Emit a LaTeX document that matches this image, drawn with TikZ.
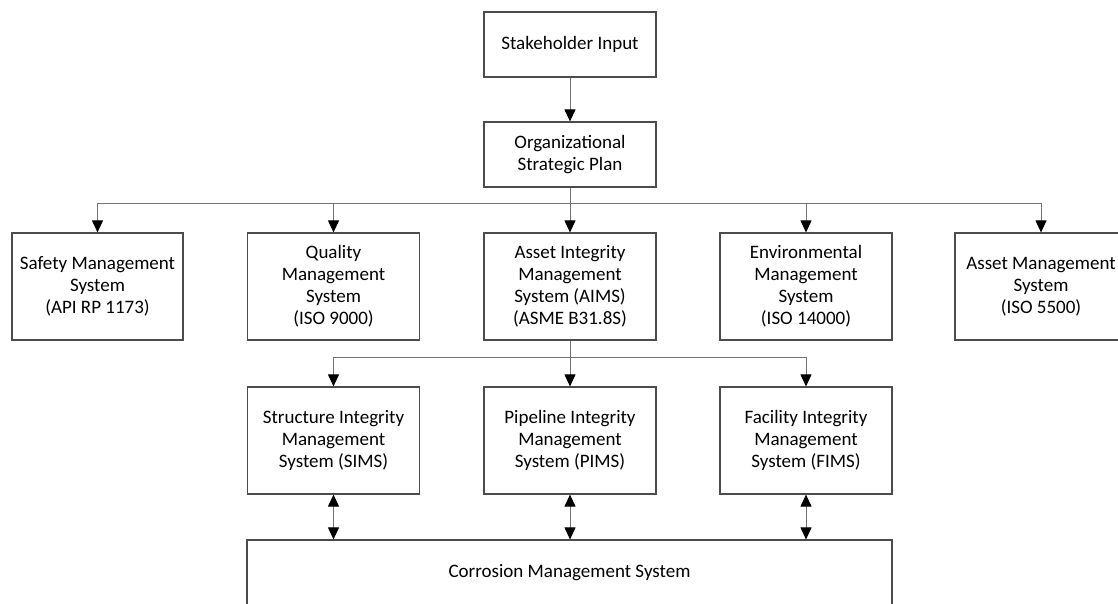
\documentclass[tikz,border=0pt]{standalone}
\usepackage{fontspec}
\setmainfont{Carlito}
\usetikzlibrary{arrows.meta}
\begin{document}
\begin{tikzpicture}[x=1pt,y=-1pt,
  box/.style={draw=black!70,line width=1.2pt,fill=white,minimum width=172pt,inner sep=0pt,align=center,font=\fontsize{19}{22}\selectfont},
  topbox/.style={box,minimum height=65pt},
  midbox/.style={box,minimum height=107pt},
  conn/.style={draw=black!55,line width=1pt},
  btip/.tip={Triangle[width=11pt,length=12pt,color=black]},
  arr/.style={conn,-btip},
  darr/.style={conn,btip-btip}]
\useasboundingbox (0,0) rectangle (1118,603);
\clip (0,0) rectangle (1118,603);
\fill[white] (0,0) rectangle (1118,603);
\node[topbox] (stake) at (570,44.5) {Stakeholder Input};
\node[topbox] (org) at (570,154.5) {Organizational\\Strategic Plan};
\node[midbox,minimum width=171pt] (safety) at (97.5,286.5) {Safety Management\\System\\(API RP 1173)};
\node[midbox] (quality) at (333.5,286.5) {Quality\\Management\\System\\(ISO 9000)};
\node[midbox] (aims) at (570,286.5) {Asset Integrity\\Management\\System (AIMS)\\(ASME B31.8S)};
\node[midbox] (env) at (806,286.5) {Environmental\\Management\\System\\(ISO 14000)};
\node[midbox] (asset) at (1041,286.5) {Asset Management\\System\\(ISO 5500)};
\node[midbox] (sims) at (333.5,440.5) {Structure Integrity\\Management\\System (SIMS)};
\node[midbox] (pims) at (570,440.5) {Pipeline Integrity\\Management\\System (PIMS)};
\node[midbox] (fims) at (806,440.5) {Facility Integrity\\Management\\System (FIMS)};
\node[box,minimum width=645pt,minimum height=66pt] (corr) at (569.5,573) {Corrosion Management System};
\coordinate (bus1) at (570,203);
\coordinate (bus2) at (570,357);
\draw[arr] (stake.south) -- (org.north);
\draw[conn] (org.south) -- (bus1);
\draw[arr] (bus1) -| (safety.north);
\draw[arr] (bus1) -| (quality.north);
\draw[arr] (bus1) -- (aims.north);
\draw[arr] (bus1) -| (env.north);
\draw[arr] (bus1) -| (asset.north);
\draw[conn] (aims.south) -- (bus2);
\draw[arr] (bus2) -| (sims.north);
\draw[arr] (bus2) -- (pims.north);
\draw[arr] (bus2) -| (fims.north);
\draw[darr] (sims.south) -- (sims.south |- corr.north);
\draw[darr] (pims.south) -- (pims.south |- corr.north);
\draw[darr] (fims.south) -- (fims.south |- corr.north);
\end{tikzpicture}
\end{document}
